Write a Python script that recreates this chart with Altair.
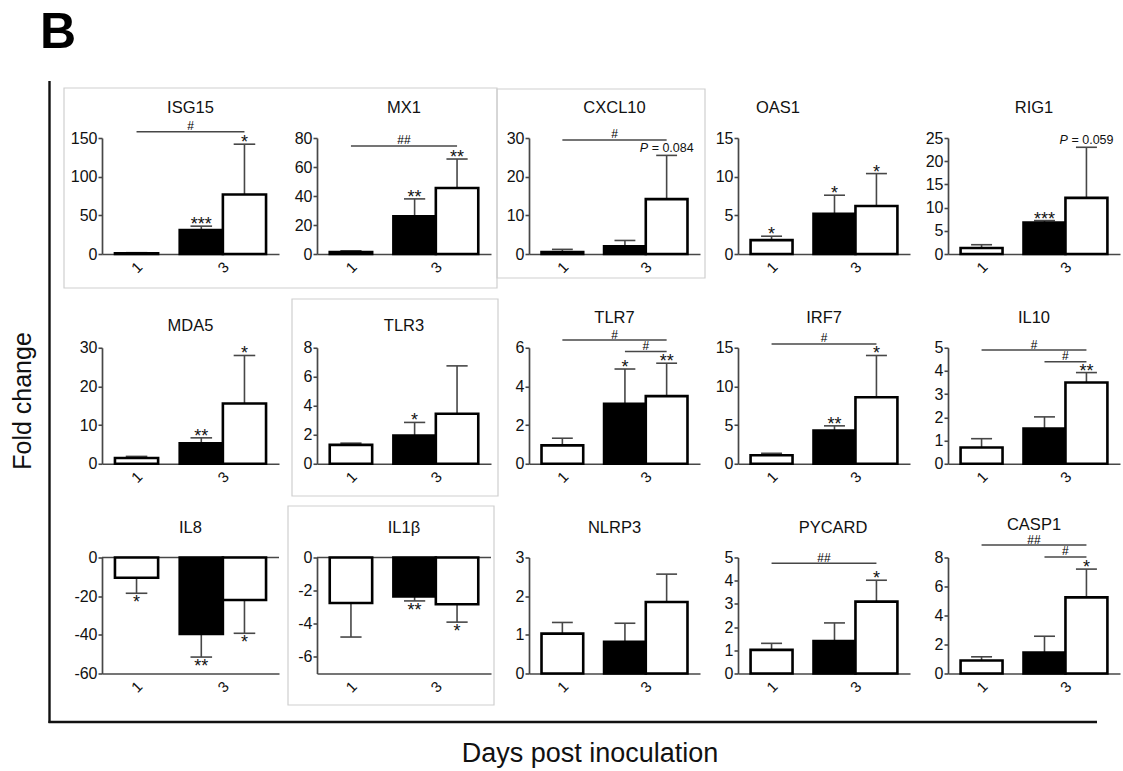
import altair as alt
import pandas as pd

FONT = "Liberation Sans"

# ---------------- data ----------------
genes = ["ISG15", "MX1", "CXCL10", "OAS1", "RIG1",
         "MDA5", "TLR3", "TLR7", "IRF7", "IL10",
         "IL8", "IL1β", "NLRP3", "PYCARD", "CASP1"]

days = [1, 3, 3]
groups = ["d1", "d3_black", "d3_white"]

mean_d1 = [1.0, 1.3, 0.5, 1.8, 1.3, 1.5, 1.3, 0.95, 1.1, 0.7, -10.5, -2.75, 1.03, 1.02, 0.9]
mean_d3b = [31, 26, 2.0, 5.2, 6.8, 5.3, 1.95, 3.1, 4.3, 1.52, -39.5, -2.35, 0.82, 1.4, 1.45]
mean_d3w = [77, 45.5, 14.2, 6.2, 12.1, 15.6, 3.45, 3.5, 8.6, 3.5, -22, -2.82, 1.85, 3.1, 5.25]
sem_d1 = [0.7, 0.9, 0.7, 0.5, 0.7, 0.4, 0.12, 0.37, 0.25, 0.38, 8, 2.05, 0.29, 0.28, 0.25]
sem_d3b = [5, 12, 1.5, 2.4, 0.4, 1.4, 0.9, 1.8, 0.6, 0.5, 12, 0.27, 0.48, 0.78, 1.12]
sem_d3w = [65, 20, 11.3, 4.2, 10.9, 12.4, 3.3, 1.7, 5.4, 0.43, 17.2, 1.08, 0.72, 0.92, 1.95]

star_d1 = ["", "", "", "*", "", "", "", "", "", "", "*", "", "", "", ""]
star_d3b = ["***", "**", "", "*", "***", "**", "*", "*", "**", "", "**", "**", "", "", ""]
star_d3w = ["*", "**", "", "*", "", "*", "", "**", "*", "**", "*", "*", "", "*", "*"]

y_min = [0, 0, 0, 0, 0, 0, 0, 0, 0, 0, -60, -7, 0, 0, 0]
y_max = [150, 80, 30, 15, 25, 30, 8, 6, 15, 5, 0, 0, 3, 5, 8]
y_ticks = [[0, 50, 100, 150], [0, 20, 40, 60, 80], [0, 10, 20, 30], [0, 5, 10, 15],
           [0, 5, 10, 15, 20, 25], [0, 10, 20, 30], [0, 2, 4, 6, 8], [0, 2, 4, 6],
           [0, 5, 10, 15], [0, 1, 2, 3, 4, 5], [-60, -40, -20, 0], [-6, -4, -2, 0],
           [0, 1, 2, 3], [0, 1, 2, 3, 4, 5], [0, 2, 4, 6, 8]]
x_tick_days = [1, 3]

bracket_gene = ["ISG15", "MX1", "CXCL10", "TLR7", "TLR7", "IRF7", "IL10", "IL10", "PYCARD", "CASP1", "CASP1"]
bracket_from = ["d1", "d1", "d1", "d1", "d3_black", "d1", "d1", "d3_black", "d1", "d1", "d3_black"]
bracket_to = ["d3_white"] * 11
bracket_level = [158, 74.5, 29.5, 6.4, 5.8, 15.5, 4.9, 4.4, 4.75, 8.86, 8.04]
bracket_label = ["#", "##", "#", "#", "#", "#", "#", "#", "##", "##", "#"]

p_gene = ["CXCL10", "RIG1"]
p_value = ["0.084", "0.059"]

# ---------------- layout / style ----------------
COL_W = [177, 174, 171, 172, 172]
H = 116
SP_X = 38
SP_Y = 93.75
X0, Y0 = 101, 137
col_x = [X0 + sum(COL_W[:k]) + k * SP_X for k in range(5)]
row_y = [Y0 + r * (H + SP_Y) for r in range(3)]

BAR_SPAN = {"d1": (-0.5, 0.5), "d3_black": (-1.0, 0.0), "d3_white": (0.0, 1.0)}
CAP_HALF = 0.25
AX = "#474747"
TXT = "#111111"
FRAME = "#cfcfcf"
TITLE_DX = {"OAS1": -46, "PYCARD": 9}
TITLE_Y = {"MDA5": -22, "TLR3": -22, "CASP1": -32.5}
DUMMY = pd.DataFrame({"k": [0]})


def center_of(g):
    d = dict(zip(groups, days))[g]
    lo, hi = BAR_SPAN[g]
    return d + (lo + hi) / 2


def deco_rect(ax1, ay1, ax2, ay2, ox, oy):
    return alt.Chart(DUMMY).mark_rect(fillOpacity=0, stroke=FRAME, strokeWidth=1.2).encode(
        x=alt.value(ax1 - ox), x2=alt.value(ax2 - ox), y=alt.value(ay1 - oy), y2=alt.value(ay2 - oy))


def build_panel(i):
    r, c = divmod(i, 5)
    w = COL_W[c]
    ox, oy = col_x[c], row_y[r]
    gene = genes[i]
    neg = y_max[i] <= 0

    df = pd.DataFrame({"day": days, "grp": groups,
                       "mean": [mean_d1[i], mean_d3b[i], mean_d3w[i]],
                       "sem": [sem_d1[i], sem_d3b[i], sem_d3w[i]],
                       "star": [star_d1[i], star_d3b[i], star_d3w[i]]})
    df["x_lo"] = df["day"] + df["grp"].map(lambda g: BAR_SPAN[g][0])
    df["x_hi"] = df["day"] + df["grp"].map(lambda g: BAR_SPAN[g][1])
    df["x_c"] = (df["x_lo"] + df["x_hi"]) / 2
    df["cap_lo"] = df["x_c"] - CAP_HALF
    df["cap_hi"] = df["x_c"] + CAP_HALF
    df["tip"] = df["mean"] + df["sem"] * (-1 if neg else 1)
    df["zero"] = 0.0

    xs = alt.Scale(domain=[0.2, 4.3], nice=False, zero=False)
    ys = alt.Scale(domain=[y_min[i], y_max[i]], nice=False, zero=False)
    xa = alt.Axis(values=x_tick_days, title=None, ticks=False, grid=False, labelAngle=-45,
                  labelAlign="center", labelBaseline="middle", labelPadding=13,
                  labelFontSize=15, labelColor=TXT, domainColor=AX, domainWidth=1.7,
                  labelFlush=False)
    ya = alt.Axis(values=y_ticks[i], title=None, grid=False, tickSize=4, tickWidth=1.6,
                  tickColor=AX, domainColor=AX, domainWidth=1.7, labelPadding=1,
                  labelFontSize=16, labelColor=TXT, labelExpr="'' + datum.value",
                  labelFlush=False, labelOverlap=False)

    def X(f):
        return alt.X(f, type="quantitative", scale=xs, axis=xa)

    def Y(f):
        return alt.Y(f, type="quantitative", scale=ys, axis=ya)

    layers = []
    if neg:
        zdf = pd.DataFrame({"z": [0.0]})
        layers.append(alt.Chart(zdf).mark_rule(color=AX, strokeWidth=1.7).encode(
            y=Y("z"), x=alt.value(0), x2=alt.value(w)))
    base = alt.Chart(df)
    layers.append(base.mark_rule(color=AX, strokeWidth=1.6).encode(
        x=X("x_c"), y=Y("tip"), y2=alt.Y2("mean")))
    layers.append(base.mark_rule(color=AX, strokeWidth=1.6).encode(
        x=X("cap_lo"), x2=alt.X2("cap_hi"), y=Y("tip")))
    layers.append(base.mark_rect(stroke="black", strokeWidth=2.6).encode(
        x=X("x_lo"), x2=alt.X2("x_hi"), y=Y("mean"), y2=alt.Y2("zero"),
        color=alt.Color("grp:N", scale=alt.Scale(domain=groups, range=["white", "black", "white"]),
                        legend=None)))
    sdf = df[df["star"] != ""]
    if len(sdf):
        layers.append(alt.Chart(sdf).mark_text(fontSize=18, baseline="alphabetic",
                                               dy=15 if neg else 4, color=TXT).encode(
            x=X("x_c"), y=Y("tip"), text="star:N"))

    rows = [k for k, g in enumerate(bracket_gene) if g == gene]
    if rows:
        bdf = pd.DataFrame({"x_from": [center_of(bracket_from[k]) for k in rows],
                            "x_to": [center_of(bracket_to[k]) for k in rows],
                            "level": [bracket_level[k] for k in rows],
                            "label": [bracket_label[k] for k in rows]})
        bdf["x_mid"] = (bdf["x_from"] + bdf["x_to"]) / 2
        layers.append(alt.Chart(bdf).mark_rule(color=AX, strokeWidth=1.5).encode(
            x=X("x_from"), x2=alt.X2("x_to"), y=Y("level")))
        layers.append(alt.Chart(bdf).mark_text(fontSize=12, baseline="alphabetic", dy=-1.5,
                                               color="#000000").encode(
            x=X("x_mid"), y=Y("level"), text="label:N"))

    if gene in p_gene:
        k = p_gene.index(gene)
        wrow = df[df["grp"] == "d3_white"].iloc[0]
        pdf = pd.DataFrame({"x": [wrow["x_c"]], "y": [wrow["tip"]], "p": ["P"],
                            "v": ["= " + p_value[k]]})
        layers.append(alt.Chart(pdf).mark_text(fontSize=12.5, fontStyle="italic", align="left",
                                               baseline="alphabetic", dx=-27, dy=-3,
                                               color=TXT).encode(
            x=X("x"), y=Y("y"), text="p:N"))
        layers.append(alt.Chart(pdf).mark_text(fontSize=12.5, align="left",
                                               baseline="alphabetic", dx=-15, dy=-3,
                                               color=TXT).encode(
            x=X("x"), y=Y("y"), text="v:N"))

    tdf = pd.DataFrame({"gene": [gene]})
    layers.append(alt.Chart(tdf).mark_text(fontSize=16.5, align="center", baseline="middle",
                                           color=TXT, dx=TITLE_DX.get(gene, 0)).encode(
        text="gene:N", x=alt.value(w / 2), y=alt.value(TITLE_Y.get(gene, -30))))

    # decorations (frames, outer axes, outer labels)
    if i == 0:
        layers.append(alt.Chart(DUMMY).mark_rect(opacity=0).encode(
            x=alt.value(-ox), x2=alt.value(-ox + 1), y=alt.value(-oy), y2=alt.value(-oy + 1)))
        layers.append(deco_rect(63, 87, 496, 287, ox, oy))
        layers.append(alt.Chart(DUMMY).mark_rule(color="#111", strokeWidth=2.4).encode(
            x=alt.value(48.5 - ox), y=alt.value(80 - oy), y2=alt.value(722 - oy)))
        layers.append(alt.Chart(DUMMY).mark_text(fontSize=50, fontWeight="bold", align="left",
                                                 baseline="alphabetic", color="black").encode(
            text=alt.value("B"), x=alt.value(39 - ox), y=alt.value(47 - oy)))
    if i == 2:
        layers.append(deco_rect(496, 88, 704, 277, ox, oy))
    if i == 6:
        layers.append(deco_rect(291, 298, 497, 495, ox, oy))
    if i == 11:
        layers.append(deco_rect(287, 505, 493, 704, ox, oy))
    if i == 5:
        layers.append(alt.Chart(DUMMY).mark_text(fontSize=25, angle=270, align="center",
                                                 baseline="middle", color=TXT).encode(
            text=alt.value("Fold change"), x=alt.value(22 - ox), y=alt.value(400 - oy)))
    if i == 10:
        layers.append(alt.Chart(DUMMY).mark_rule(color="#111", strokeWidth=2.4).encode(
            y=alt.value(721 - oy), x=alt.value(47.5 - ox), x2=alt.value(1096 - ox)))
        layers.append(alt.Chart(DUMMY).mark_text(fontSize=27, align="center",
                                                 baseline="middle", color=TXT).encode(
            text=alt.value("Days post inoculation"), x=alt.value(589 - ox),
            y=alt.value(753 - oy)))

    return alt.layer(*layers).properties(width=w, height=H)


panels = [build_panel(i) for i in range(15)]
chart = alt.concat(*panels, columns=5, spacing={"row": SP_Y, "column": SP_X},
                   bounds="flush").properties(
    padding={"left": 0, "top": 0, "right": 0, "bottom": 0}
).configure(font=FONT).configure_view(stroke="transparent")

chart.save("out.html", embed_options={"renderer": "svg", "actions": False})
